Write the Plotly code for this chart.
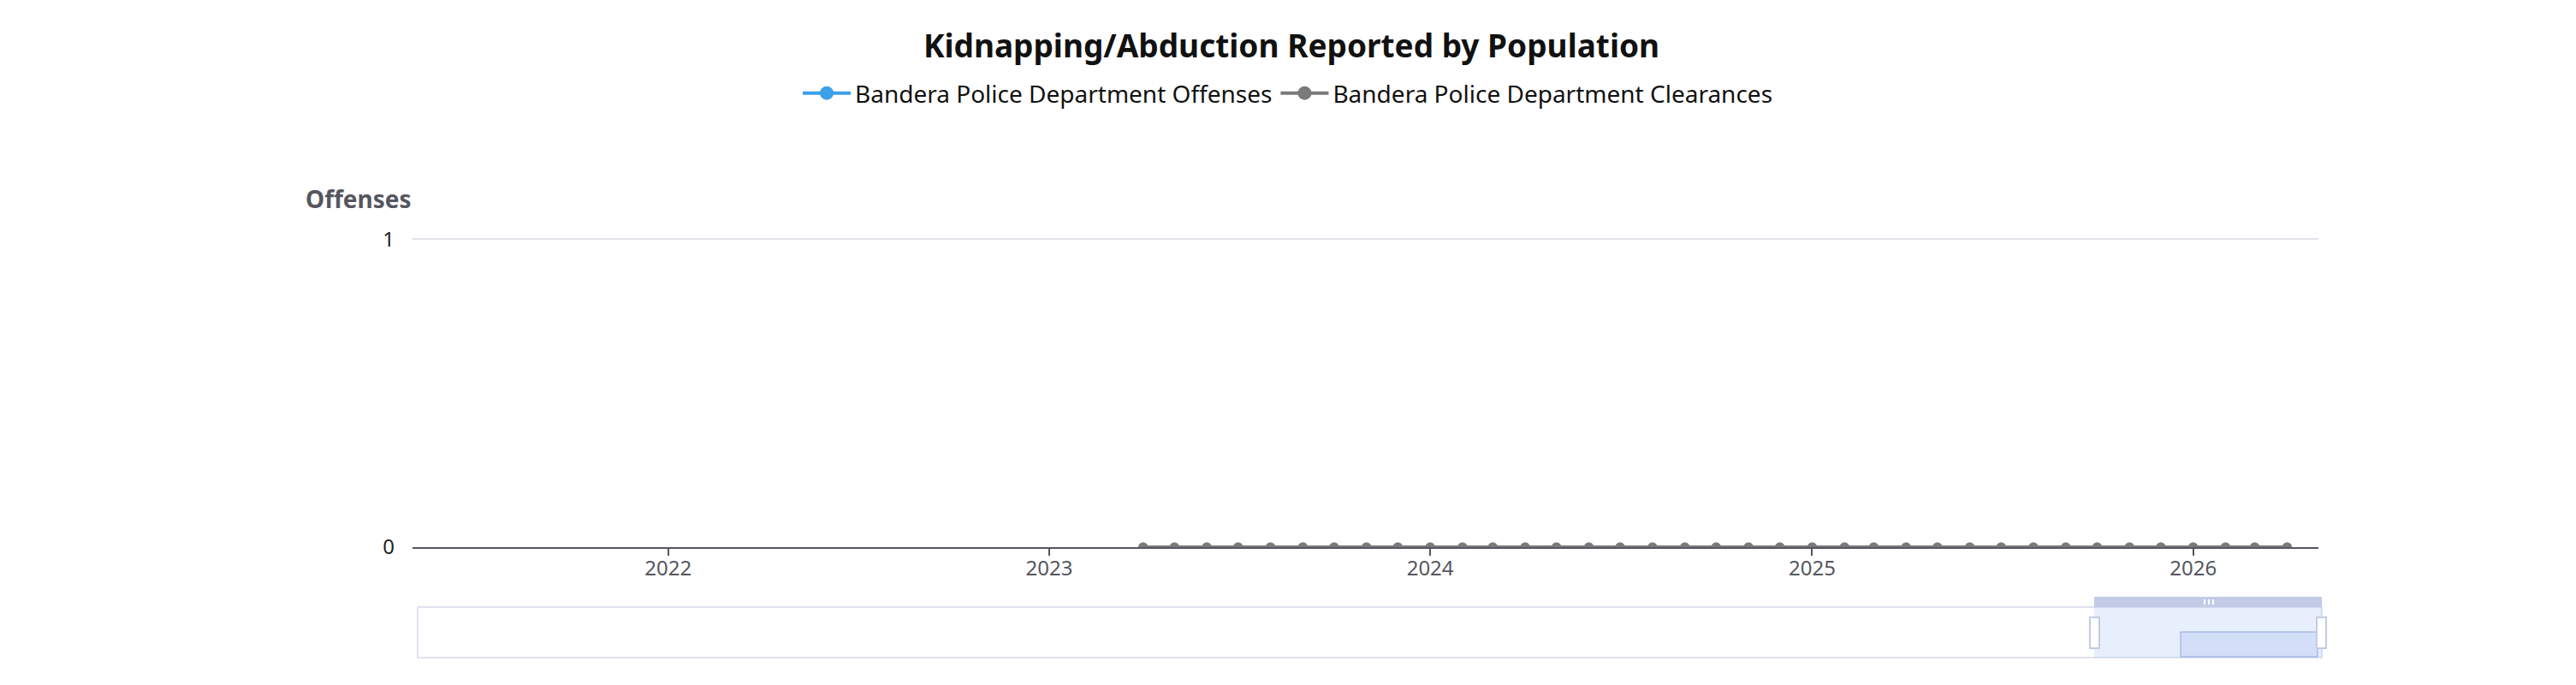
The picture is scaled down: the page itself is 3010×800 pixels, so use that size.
import plotly.graph_objects as go

# monthly reporting periods shown in the chart
months = [
    "2023-04-01", "2023-05-01", "2023-06-01", "2023-07-01", "2023-08-01", "2023-09-01",
    "2023-10-01", "2023-11-01", "2023-12-01", "2024-01-01", "2024-02-01", "2024-03-01",
    "2024-04-01", "2024-05-01", "2024-06-01", "2024-07-01", "2024-08-01", "2024-09-01",
    "2024-10-01", "2024-11-01", "2024-12-01", "2025-01-01", "2025-02-01", "2025-03-01",
    "2025-04-01", "2025-05-01", "2025-06-01", "2025-07-01", "2025-08-01", "2025-09-01",
    "2025-10-01", "2025-11-01", "2025-12-01", "2026-01-01", "2026-02-01", "2026-03-01",
    "2026-04-01",
]
offenses = [0, 0, 0, 0, 0, 0, 0, 0, 0, 0, 0, 0, 0, 0, 0, 0, 0, 0, 0,
            0, 0, 0, 0, 0, 0, 0, 0, 0, 0, 0, 0, 0, 0, 0, 0, 0, 0]
clearances = [0, 0, 0, 0, 0, 0, 0, 0, 0, 0, 0, 0, 0, 0, 0, 0, 0, 0, 0,
              0, 0, 0, 0, 0, 0, 0, 0, 0, 0, 0, 0, 0, 0, 0, 0, 0, 0]
x_range = ["2021-05-01", "2026-05-01"]

FONT = "Noto Sans"
OFF = 8                       # page body margin
W, H = 3010 - OFF, 800 - OFF
L, R, T, B = 482 - OFF, 2709 - OFF, 278 - OFF, 639 - OFF   # plot area in pixels

BLUE = "#3ba0e8"
GRAY = "#7a7a7a"


def px(x):
    return (x - OFF - L) / (R - L)


def py(y):
    return (B - (y - OFF)) / (B - T)


fig = go.Figure()
fig.add_trace(go.Scatter(x=months, y=offenses, name="Bandera Police Department Offenses",
                         mode="lines+markers", line=dict(color=BLUE, width=4),
                         marker=dict(size=11, color=BLUE), showlegend=False))
fig.add_trace(go.Scatter(x=months, y=clearances, name="Bandera Police Department Clearances",
                         mode="lines+markers", line=dict(color=GRAY, width=4),
                         marker=dict(size=11, color=GRAY), showlegend=False))
# legend entries with the larger symbols used by the original legend
fig.add_trace(go.Scatter(x=[None], y=[None], name="Bandera Police Department Offenses",
                         mode="lines+markers", line=dict(color=BLUE, width=4),
                         marker=dict(size=18, color=BLUE)))
fig.add_trace(go.Scatter(x=[None], y=[None], name="Bandera Police Department Clearances",
                         mode="lines+markers", line=dict(color=GRAY, width=4),
                         marker=dict(size=18, color=GRAY)))

# slider (dataZoom) decoration under the plot
shapes = [
    dict(type="rect", xref="paper", yref="paper", x0=px(488), x1=px(2713), y0=py(768), y1=py(709),
         line=dict(color="#dfe2f2", width=2), fillcolor="rgba(0,0,0,0)", layer="above"),
    dict(type="rect", xref="paper", yref="paper", x0=px(2447), x1=px(2713), y0=py(768), y1=py(709),
         line=dict(width=0), fillcolor="rgba(135,175,240,0.2)", layer="above"),
    dict(type="rect", xref="paper", yref="paper", x0=px(2548), x1=px(2708), y0=py(767), y1=py(738),
         line=dict(color="#8fa6e0", width=1), fillcolor="rgba(150,175,235,0.25)", layer="above"),
    dict(type="rect", xref="paper", yref="paper", x0=px(2447), x1=px(2713), y0=py(709), y1=py(697),
         line=dict(width=0), fillcolor="#c3cae6", layer="above"),
    dict(type="rect", xref="paper", yref="paper", x0=px(2442), x1=px(2453), y0=py(757), y1=py(721),
         line=dict(color="#c3cae6", width=2), fillcolor="white", layer="above"),
    dict(type="rect", xref="paper", yref="paper", x0=px(2707), x1=px(2718), y0=py(757), y1=py(721),
         line=dict(color="#c3cae6", width=2), fillcolor="white", layer="above"),
]
for gx in (2575, 2580, 2585):
    shapes.append(dict(type="rect", xref="paper", yref="paper", x0=px(gx), x1=px(gx + 2),
                       y0=py(706), y1=py(700), line=dict(width=0), fillcolor="white", layer="above"))

fig.update_layout(
    width=W, height=H,
    margin=dict(l=L, r=W - R, t=T, b=H - B),
    paper_bgcolor="white", plot_bgcolor="white",
    font=dict(family=FONT, size=24, color="#6e7079"),
    title=dict(text="<b>Kidnapping/Abduction Reported by Population</b>", x=0.5, xanchor="center",
               y=1 - (54 - OFF) / H, yanchor="middle", font=dict(size=37, color="#111111")),
    legend=dict(orientation="h", x=px(1505), xanchor="center", y=py(109), yanchor="middle",
                font=dict(size=28, color="#111111"), itemwidth=56, traceorder="normal"),
    showlegend=True,
    shapes=shapes,
    annotations=[dict(text="<b>Offenses</b>", xref="paper", yref="paper", x=px(419), y=py(232),
                      xanchor="center", yanchor="middle", showarrow=False,
                      font=dict(size=28, color="#55565f"))],
)
fig.update_xaxes(type="date", range=x_range, dtick="M12", tick0="2022-01-01", tickformat="%Y",
                 showgrid=False, zeroline=False, showline=True, linecolor="#55565f", linewidth=2,
                 ticks="outside", ticklen=8, tickcolor="#55565f", tickwidth=2,
                 ticklabelstandoff=-6, tickfont=dict(size=24, color="#55565f"))
fig.update_yaxes(range=[0, 1.004], tickvals=[0, 1], showgrid=True, gridcolor="#dfe3ea", gridwidth=2,
                 zeroline=False, showline=False, ticklabelstandoff=20,
                 tickfont=dict(size=24, color="#222222"))

fig.write_html("out.html")
